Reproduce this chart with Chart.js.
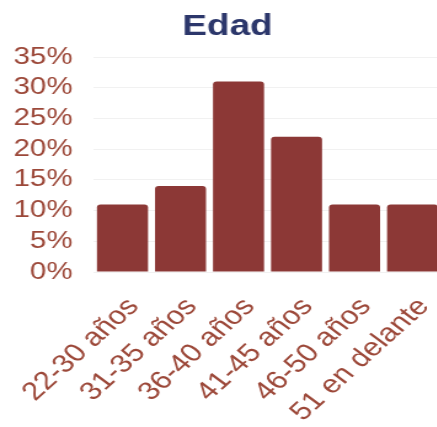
<!DOCTYPE html>
<html lang="es">
<head>
<meta charset="UTF-8">
<title>Edad</title>
<style>
html, body { margin: 0; padding: 0; background: #fff; overflow: hidden; }
#wrap { width: 370px; height: 427px; transform: scaleX(1.23); transform-origin: 0 0; }
</style>
</head>
<body>
<div id="wrap">
    <canvas id="edadChart" width="370" height="427"></canvas>
</div>
<script src="https://cdn.jsdelivr.net/npm/chart.js"></script>
<script>
// age groups and share of respondents (%)
const categories = ['22-30 años', '31-35 años', '36-40 años', '41-45 años', '46-50 años', '51 en delante'];
const values = [11, 14, 31, 22, 11, 11];
const yTicks = [0, 5, 10, 15, 20, 25, 30, 35];

const tickColor = '#9c4839';
const barColor = '#8c3836';
const font = 'Liberation Sans, Arial';

new Chart(document.getElementById('edadChart'), {
    type: 'bar',
    data: {
        labels: categories,
        datasets: [{
            label: 'Edad',
            data: values,
            backgroundColor: barColor,
            borderRadius: 3,
            borderSkipped: 'bottom',
            barPercentage: 0.88,
            categoryPercentage: 1
        }]
    },
    options: {
        responsive: false,
        animation: false,
        layout: { padding: 0 },
        plugins: {
            legend: { display: false },
            tooltip: { enabled: false },
            title: {
                display: true,
                text: 'Edad',
                color: '#2c376b',
                font: { family: font, size: 30, weight: 'bold' },
                padding: { top: 9, bottom: 12 }
            }
        },
        scales: {
            x: {
                grid: { display: false },
                border: { display: false },
                afterFit: axis => {
                    // labels may hang over the left edge, don't shrink the plot for them
                    axis.paddingLeft = 0;
                    axis.paddingRight = 0;
                    axis.height = 155;
                },
                ticks: {
                    color: tickColor,
                    font: { family: font, size: 25.5 },
                    maxRotation: 48,
                    minRotation: 48,
                    autoSkip: false,
                    labelOffset: 9,
                    padding: 12
                }
            },
            y: {
                min: 0,
                max: 35,
                afterBuildTicks: axis => { axis.ticks = yTicks.map(v => ({ value: v })); },
                afterFit: axis => { axis.width = 76; },
                grid: { color: '#f1f1f1', drawTicks: false },
                border: { display: false },
                ticks: {
                    color: tickColor,
                    font: { family: font, size: 24 },
                    padding: 17,
                    autoSkip: false,
                    callback: v => v + '%'
                }
            },
            // empty spacer on the right so the plot ends before the canvas edge
            yRight: {
                position: 'right',
                grid: { display: false },
                border: { display: false },
                ticks: { display: false },
                afterFit: axis => { axis.width = 11; }
            }
        }
    }
});
</script>
</body>
</html>
